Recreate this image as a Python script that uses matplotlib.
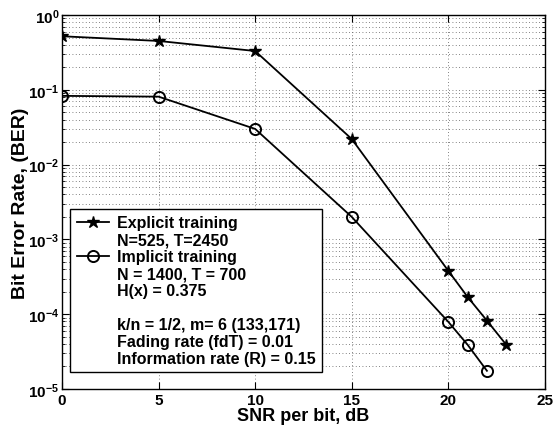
import numpy as np
import matplotlib.pyplot as plt
from matplotlib.lines import Line2D
from matplotlib.ticker import LogLocator, FuncFormatter

plt.rcParams['font.family'] = ['Liberation Sans', 'DejaVu Sans']
plt.rcParams['font.weight'] = 'bold'
plt.rcParams['mathtext.fontset'] = 'custom'
plt.rcParams['mathtext.bf'] = 'Liberation Sans:bold'
plt.rcParams['mathtext.rm'] = 'Liberation Sans:bold'

snr_explicit = [0, 5, 10, 15, 20, 21, 22, 23]
ber_explicit = [0.52, 0.45, 0.33, 0.022, 3.8e-4, 1.7e-4, 8.2e-5, 3.9e-5]

snr_implicit = [0, 5, 10, 15, 20, 21, 22]
ber_implicit = [0.083, 0.081, 0.03, 0.002, 7.9e-5, 3.9e-5, 1.75e-5]

legend_lines = ['Explicit training', 'N=525, T=2450', 'Implicit training',
                'N = 1400, T = 700', 'H(x) = 0.375', '',
                'k/n = 1/2, m= 6 (133,171)', 'Fading rate (fdT) = 0.01',
                'Information rate (R) = 0.15']

fig = plt.figure(figsize=(5.56, 4.27), dpi=100)
ax = fig.add_axes([0.1115, 0.0867, 0.8685, 0.8758])

l1, = ax.semilogy(snr_explicit, ber_explicit, color='black', lw=1.3,
                  marker='*', ms=9, mfc='black', mec='black')
l2, = ax.semilogy(snr_implicit, ber_implicit, color='black', lw=1.3,
                  marker='o', ms=8, mfc='none', mec='black', mew=1.4)

ax.set_xlim(0, 25)
ax.set_ylim(1e-5, 1)
ax.set_xticks([0, 5, 10, 15, 20, 25])
ax.yaxis.set_major_locator(LogLocator(base=10, numticks=10))
ax.yaxis.set_minor_locator(LogLocator(base=10, subs=np.arange(2, 10), numticks=10))
ax.yaxis.set_major_formatter(FuncFormatter(lambda v, p: r'$\mathbf{10^{%d}}$' % round(np.log10(v))))
ax.yaxis.set_minor_formatter(FuncFormatter(lambda v, p: ''))

ax.tick_params(which='both', direction='in', top=True, right=True, labelsize=11)
ax.tick_params(which='major', length=5)
ax.tick_params(axis='y', which='major', pad=2)
ax.tick_params(axis='x', which='major', pad=3)
ax.tick_params(which='minor', length=2.5)
for lab in ax.get_xticklabels():
    lab.set_fontweight('bold')

ax.grid(True, which='major', axis='x', ls=(0, (1, 3)), color='0.35', lw=0.6)
ax.grid(True, which='both', axis='y', ls=(0, (1, 3)), color='0.35', lw=0.6)
for s in ax.spines.values():
    s.set_linewidth(1.0)

ax.set_xlabel('SNR per bit, dB', fontsize=13, fontweight='bold', labelpad=0)
ax.set_ylabel('Bit Error Rate, (BER)', fontsize=14, fontweight='bold', labelpad=-1)

blank = lambda: Line2D([], [], color='none')
handles = [l1, blank(), l2] + [blank() for _ in range(6)]
leg = ax.legend(handles, legend_lines, loc='upper left', bbox_to_anchor=(0.017, 0.481),
                borderaxespad=0, fancybox=False, edgecolor='black', framealpha=1,
                prop={'weight': 'bold', 'size': 11.5}, handlelength=2.0,
                handletextpad=0.5, labelspacing=0.12, borderpad=0.4)
leg.get_frame().set_linewidth(1.0)

fig.savefig('out.png', dpi=100)
